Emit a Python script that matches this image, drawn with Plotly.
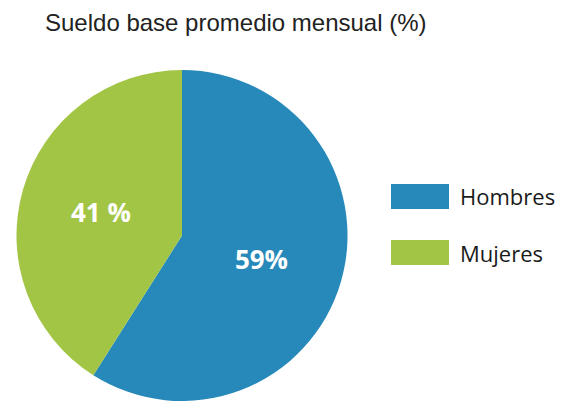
import plotly.graph_objects as go

W, H = 577, 401

# Data
labels = ["Hombres", "Mujeres"]
values = [59, 41]
text_labels = ["59%", "41 %"]
colors = ["#2689b9", "#a3c546"]
title_text = "Sueldo base promedio mensual (%)"

fig = go.Figure()

# pie domain in pixels -> paper
top_px, bottom_px = 70, 402
diam = bottom_px - top_px
cx = 182
fig.add_trace(go.Pie(
    labels=labels,
    values=values,
    text=text_labels,
    textinfo="text",
    textposition="inside",
    insidetextorientation="horizontal",
    insidetextfont=dict(family="Open Sans", size=26, color="white", weight="bold"),
    marker=dict(colors=colors, line=dict(width=0)),
    sort=False,
    direction="clockwise",
    rotation=0,
    showlegend=False,
    hoverinfo="label+percent",
    domain=dict(x=[(cx - diam / 2) / W, (cx + diam / 2) / W],
                y=[max(0, (H - bottom_px) / H), (H - top_px) / H]),
))

# Manual legend
shapes = []
annotations = []
leg_x0, leg_x1 = 391, 449
leg_rows = [(184, 209), (240, 265)]
for (y0, y1), lab, col in zip(leg_rows, labels, colors):
    shapes.append(dict(type="rect", xref="paper", yref="paper",
                       x0=leg_x0 / W, x1=leg_x1 / W,
                       y0=1 - y1 / H, y1=1 - y0 / H,
                       fillcolor=col, line=dict(width=0)))
    annotations.append(dict(text=lab, xref="paper", yref="paper",
                            x=458 / W, y=1 - ((y0 + y1) / 2) / H,
                            xanchor="left", yanchor="middle", showarrow=False,
                            font=dict(family="Open Sans", size=22, color="#1a1a1a")))

annotations.append(dict(text=title_text, xref="paper", yref="paper",
                        x=43 / W, y=1 - 22 / H, xanchor="left", yanchor="middle",
                        showarrow=False,
                        font=dict(family="Liberation Sans, Arial", size=24, color="#222222")))

fig.update_layout(
    width=W, height=H,
    margin=dict(l=0, r=0, t=0, b=0),
    paper_bgcolor="white",
    plot_bgcolor="white",
    shapes=shapes,
    annotations=annotations,
)

fig.write_html("out.html")
